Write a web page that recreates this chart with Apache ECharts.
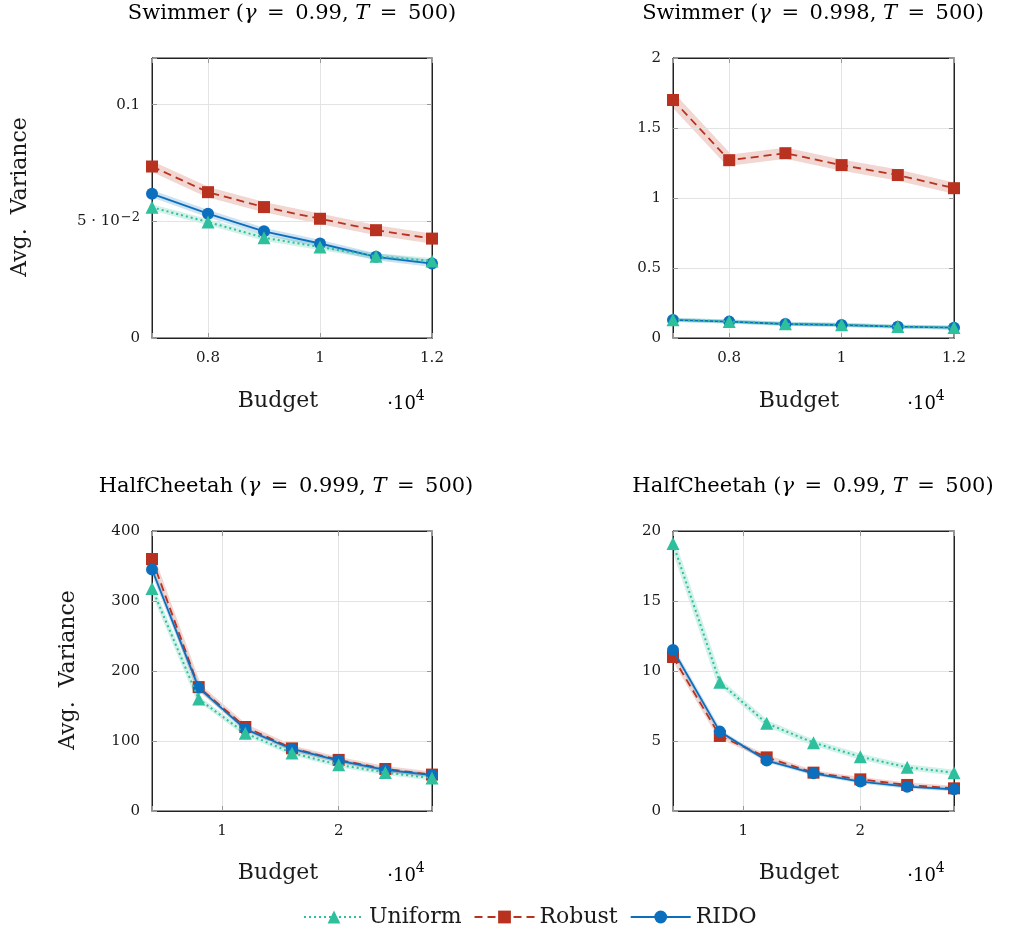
<!DOCTYPE html>
<html>
<head>
<meta charset="utf-8">
<script src="https://cdn.jsdelivr.net/npm/echarts@6/dist/echarts.min.js"></script>
<style>html,body{margin:0;padding:0;background:#fff}#c{width:1012px;height:932px}</style>
</head>
<body>
<div id="c"></div>
<script>
// ---------- data ----------
const budgetSwimmer = [0.7, 0.8, 0.9, 1.0, 1.1, 1.2];          // ×10^4
const budgetCheetah = [0.4, 0.8, 1.2, 1.6, 2.0, 2.4, 2.8];     // ×10^4

// Swimmer (γ = 0.99)
const uniformSw99  = [0.0560, 0.0497, 0.0430, 0.0390, 0.0350, 0.0330];
const robustSw99   = [0.0735, 0.0625, 0.0561, 0.0511, 0.0462, 0.0426];
const ridoSw99     = [0.0618, 0.0533, 0.0457, 0.0405, 0.0348, 0.0319];
// Swimmer (γ = 0.998)
const uniformSw998 = [0.131, 0.118, 0.101, 0.094, 0.082, 0.075];
const robustSw998  = [1.70, 1.27, 1.32, 1.235, 1.164, 1.07];
const ridoSw998    = [0.129, 0.117, 0.100, 0.093, 0.081, 0.074];
// HalfCheetah (γ = 0.999)
const uniformHc999 = [318, 160, 111, 83, 66, 55, 47];
const robustHc999  = [360, 177, 120, 89.5, 73, 60, 52];
const ridoHc999    = [345, 176, 117, 88.6, 72, 58.6, 51.4];
// HalfCheetah (γ = 0.99)
const uniformHc99  = [19.1, 9.2, 6.26, 4.88, 3.88, 3.12, 2.74];
const robustHc99   = [11.0, 5.36, 3.83, 2.74, 2.26, 1.86, 1.62];
const ridoHc99     = [11.5, 5.67, 3.60, 2.69, 2.10, 1.74, 1.55];

// tick labels
const xTicksSwimmer = [0.8, 1, 1.2];
const xTicksCheetah = [1, 2];
const yTicksSw99  = [0, 0.05, 0.1];
const yTicksSw998 = [0, 0.5, 1, 1.5, 2];
const yTicksHc999 = [0, 100, 200, 300, 400];
const yTicksHc99  = [0, 5, 10, 15, 20];

const titles = [
  ['Swimmer (', 'γ', ' = 0.99, ', 'T', ' = 500)'],
  ['Swimmer (', 'γ', ' = 0.998, ', 'T', ' = 500)'],
  ['HalfCheetah (', 'γ', ' = 0.999, ', 'T', ' = 500)'],
  ['HalfCheetah (', 'γ', ' = 0.99, ', 'T', ' = 500)']
];
const seriesNames = ['Uniform', 'Robust', 'RIDO'];

// ---------- styling ----------
const FONT = '"DejaVu Serif", "Liberation Serif", serif';
const TXT = '#1a1a1a';
const COL = { Uniform: '#2ebf9d', Robust: '#b8321f', RIDO: '#0b6fbd' };
const BAND = { Uniform: 'rgba(46,191,157,0.22)', Robust: 'rgba(184,50,31,0.2)', RIDO: 'rgba(11,111,189,0.2)' };
const SYM = { Uniform: 'triangle', Robust: 'rect', RIDO: 'circle' };
const SYMSIZE = { Uniform: 13, Robust: 12, RIDO: 12 };
const DASH = { Uniform: [2, 3], Robust: [8, 5], RIDO: 'solid' };
const ZS = { Robust: 3, RIDO: 4, Uniform: 5 };

const grids = [
  { left: 152, top: 58, width: 280, height: 280 },
  { left: 673, top: 58, width: 281, height: 280 },
  { left: 152, top: 531, width: 280, height: 280 },
  { left: 673, top: 531, width: 281, height: 280 }
];

const panels = [
  { x: budgetSwimmer, xMin: 0.7, xMax: 1.2, xStep: 0.2, xTicks: xTicksSwimmer,
    yMin: 0, yMax: 0.12, yStep: 0.05, yTicks: yTicksSw99,
    data: { Uniform: uniformSw99, Robust: robustSw99, RIDO: ridoSw99 },
    band: { Uniform: 6, Robust: 10, RIDO: 7 } },
  { x: budgetSwimmer, xMin: 0.7, xMax: 1.2, xStep: 0.2, xTicks: xTicksSwimmer,
    yMin: 0, yMax: 2, yStep: 0.5, yTicks: yTicksSw998,
    data: { Uniform: uniformSw998, Robust: robustSw998, RIDO: ridoSw998 },
    band: { Uniform: 4, Robust: 11, RIDO: 4 } },
  { x: budgetCheetah, xMin: 0.4, xMax: 2.8, xStep: 1, xTicks: xTicksCheetah,
    yMin: 0, yMax: 400, yStep: 100, yTicks: yTicksHc999,
    data: { Uniform: uniformHc999, Robust: robustHc999, RIDO: ridoHc999 },
    band: { Uniform: 5, Robust: 6, RIDO: 4 } },
  { x: budgetCheetah, xMin: 0.4, xMax: 2.8, xStep: 1, xTicks: xTicksCheetah,
    yMin: 0, yMax: 20, yStep: 5, yTicks: yTicksHc99,
    data: { Uniform: uniformHc99, Robust: robustHc99, RIDO: ridoHc99 },
    band: { Uniform: 6, Robust: 5, RIDO: 4 } }
];

function inTicks(list, v) { return list.some(t => Math.abs(t - v) < 1e-7); }
function fmtY(list) {
  return function (v) {
    if (!inTicks(list, v)) return '';
    if (Math.abs(v - 0.05) < 1e-9) return '{n|5 · 10}{s|−2}';
    return '{n|' + String(+v.toFixed(6)) + '}';
  };
}
function fmtX(list) {
  return function (v) { return inTicks(list, v) ? '{n|' + String(+v.toFixed(6)) + '}' : ''; };
}
const labelRich = {
  n: { fontFamily: FONT, fontSize: 15, color: TXT, lineHeight: 20 },
  s: { fontFamily: FONT, fontSize: 13, color: TXT, verticalAlign: 'top', lineHeight: 20, padding: [0, 0, 10, 1] }
};
const axisLineStyle = { show: true, onZero: false, lineStyle: { color: '#222', width: 1 } };
const tickStyle = { show: true, inside: true, length: 5, lineStyle: { color: '#999', width: 1 } };
const splitStyle = { show: true, showMinLine: false, showMaxLine: false, lineStyle: { color: '#e3e3e3', width: 1 } };

const xAxes = [], yAxes = [], series = [];
panels.forEach((p, i) => {
  const xBase = { gridIndex: i, type: 'value', min: p.xMin, max: p.xMax, minInterval: p.xStep, maxInterval: p.xStep };
  const yBase = { gridIndex: i, type: 'value', min: p.yMin, max: p.yMax, minInterval: p.yStep, maxInterval: p.yStep };
  xAxes.push(Object.assign({}, xBase, {
    position: 'bottom', z: 2, axisLine: axisLineStyle, axisTick: tickStyle,
    axisLabel: { formatter: fmtX(p.xTicks), margin: 10, rich: labelRich, showMinLabel: true, showMaxLabel: true },
    splitLine: splitStyle
  }));
  xAxes.push(Object.assign({}, xBase, {
    position: 'top', z: 2, axisLine: axisLineStyle, axisTick: tickStyle,
    axisLabel: { show: false }, splitLine: { show: false }
  }));
  yAxes.push(Object.assign({}, yBase, {
    position: 'left', z: 2, axisLine: axisLineStyle, axisTick: tickStyle,
    axisLabel: { formatter: fmtY(p.yTicks), margin: 12, rich: labelRich, showMinLabel: true, showMaxLabel: true },
    splitLine: splitStyle
  }));
  yAxes.push(Object.assign({}, yBase, {
    position: 'right', z: 2, axisLine: axisLineStyle, axisTick: tickStyle,
    axisLabel: { show: false }, splitLine: { show: false }
  }));
  seriesNames.forEach(name => {
    const pts = p.x.map((xv, k) => [xv, p.data[name][k]]);
    // confidence band (rendered as a wide translucent stroke)
    series.push({
      type: 'line', name: name + ' band', xAxisIndex: 2 * i, yAxisIndex: 2 * i,
      data: pts, showSymbol: false, silent: true, z: 1,
      lineStyle: { color: BAND[name], width: p.band[name], cap: 'round', join: 'round' },
      emphasis: { disabled: true }, animation: false
    });
    series.push({
      type: 'line', name: name, xAxisIndex: 2 * i, yAxisIndex: 2 * i,
      data: pts, symbol: SYM[name], symbolSize: SYMSIZE[name], showSymbol: true,
      z: ZS[name], color: COL[name],
      itemStyle: { color: COL[name] },
      lineStyle: { color: COL[name], width: name === 'Uniform' ? 2 : 1.8, type: DASH[name] },
      emphasis: { disabled: true }, animation: false
    });
  });
});

// ---------- text elements ----------
const graphic = [];
const titleRich = {
  r: { fontFamily: FONT, fontSize: 21, color: TXT },
  i: { fontFamily: FONT, fontSize: 21, color: TXT, fontStyle: 'italic' }
};
const SP = '\u2002';
const titlePos = [[292, 14], [813, 14], [286, 487], [813, 487]];
titles.forEach((t, i) => {
  const s = x => x.replace(/ = /g, SP + '=' + SP);
  graphic.push({
    type: 'text', x: titlePos[i][0], y: titlePos[i][1],
    style: {
      text: '{r|' + s(t[0]) + '}{i|' + t[1] + '}{r|' + s(t[2]) + '}{i|' + t[3] + '}{r|' + s(t[4]) + '}',
      rich: titleRich, align: 'center', verticalAlign: 'middle'
    }
  });
});
const budgetPos = [[278, 401], [799, 401], [278, 873], [799, 873]];
const expPos = [[406, 401], [926, 401], [406, 873], [926, 873]];
const expRich = {
  a: { fontFamily: FONT, fontSize: 18, color: TXT, lineHeight: 24, verticalAlign: 'bottom' },
  s: { fontFamily: FONT, fontSize: 14, color: TXT, lineHeight: 24, verticalAlign: 'top' }
};
budgetPos.forEach((pt, i) => {
  graphic.push({ type: 'text', x: pt[0], y: pt[1],
    style: { text: 'Budget', fontFamily: FONT, fontSize: 22, fill: TXT, align: 'center', verticalAlign: 'middle' } });
  graphic.push({ type: 'text', x: expPos[i][0], y: expPos[i][1],
    style: { text: '{a|·10}{s|4}', rich: expRich, align: 'center', verticalAlign: 'middle' } });
});
[[20, 197], [68, 670]].forEach(pt => {
  graphic.push({ type: 'text', x: pt[0], y: pt[1], rotation: Math.PI / 2,
    style: { text: 'Avg.  Variance', fontFamily: FONT, fontSize: 22, fill: TXT, align: 'center', verticalAlign: 'middle' } });
});

const chart = echarts.init(document.getElementById('c'), null, { renderer: 'canvas' });
chart.setOption({
  backgroundColor: '#fff',
  animation: false,
  grid: grids.map(g => Object.assign({ containLabel: false, show: true, borderColor: '#222', borderWidth: 1, backgroundColor: 'transparent' }, g)),
  xAxis: xAxes,
  yAxis: yAxes,
  series: series,
  graphic: graphic,
  legend: {
    data: seriesNames, left: 298, top: 901, itemWidth: 60, itemHeight: 16, itemGap: 12,
    textStyle: { fontFamily: FONT, fontSize: 22, color: TXT },
    selectedMode: false
  }
});
</script>
</body>
</html>
